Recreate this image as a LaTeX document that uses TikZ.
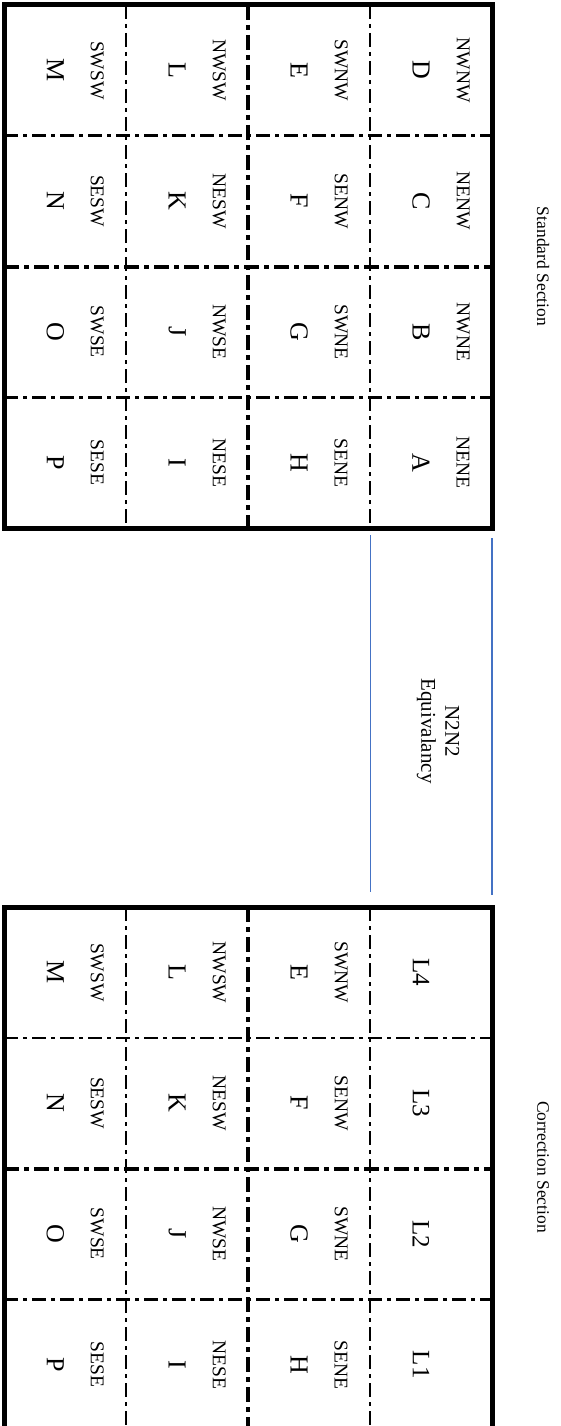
\documentclass[tikz,border=0pt]{standalone}
\usepackage{fontspec}
\setmainfont{Liberation Serif}
\definecolor{blueline}{HTML}{4472C4}
\begin{document}
\begin{tikzpicture}[x=1pt,y=-1pt,
  frame/.style={line width=5pt},
  thindd/.style={line width=2.5pt, dash pattern=on 14pt off 5pt on 4pt off 5pt},
  thickdd/.style={line width=4pt, dash pattern=on 15pt off 5pt on 5pt off 5pt},
  lbl/.style={rotate=-90, inner sep=0pt, font=\fontsize{19.5}{22}\selectfont},
  bigch/.style={rotate=-90, inner sep=0pt, font=\fontsize{26}{30}\selectfont},
  lev/.style={rotate=-90, inner sep=0pt, font=\fontsize{25}{29}\selectfont},
  sect/.style={rotate=-90, inner sep=0pt, font=\fontsize{17.5}{21}\selectfont},
  equiv/.style={rotate=-90, inner sep=0pt, align=center, font=\fontsize{21}{24}\selectfont},
  bluel/.style={draw=blueline, line width=1.5pt}]
\useasboundingbox (0,0) rectangle (561,1426);
\clip (0,0) rectangle (561,1426);
% grids
\foreach \gy in {5,907}{
  \draw[thindd] (126.2,\gy) -- (126.2,{\gy+523});
  \draw[thickdd] (248.1,\gy) -- (248.1,{\gy+523});
  \draw[thindd] (370,\gy) -- (370,{\gy+523});
  \draw[thindd] (4.3,{\gy+130.75}) -- (492,{\gy+130.75});
  \draw[thickdd] (4.3,{\gy+261.5}) -- (492,{\gy+261.5});
  \draw[thindd] (4.3,{\gy+392.25}) -- (492,{\gy+392.25});
  \draw[frame] (4.3,\gy) rectangle (492,{\gy+523});
}
% standard section cells
\foreach \b/\r/\lab/\ch in {0/0/NWNW/D, 0/1/NENW/C, 0/2/NWNE/B, 0/3/NENE/A,
  1/0/SWNW/E, 1/1/SENW/F, 1/2/SWNE/G, 1/3/SENE/H,
  2/0/NWSW/L, 2/1/NESW/K, 2/2/NWSE/J, 2/3/NESE/I,
  3/0/SWSW/M, 3/1/SESW/N, 3/2/SWSE/O, 3/3/SESE/P}{
  \node[lbl] (s\lab) at ({492-121.9*\b-29},{5+130.75*(\r+0.5)}) {\lab};
  \node[bigch] (s\ch) at ({492-121.9*\b-71},{5+130.75*(\r+0.5)}) {\ch};
}
% correction section cells
\foreach \b/\r/\lab/\ch in {
  1/0/SWNW/E, 1/1/SENW/F, 1/2/SWNE/G, 1/3/SENE/H,
  2/0/NWSW/L, 2/1/NESW/K, 2/2/NWSE/J, 2/3/NESE/I,
  3/0/SWSW/M, 3/1/SESW/N, 3/2/SWSE/O, 3/3/SESE/P}{
  \node[lbl] (c\lab) at ({492-121.9*\b-29},{907+130.75*(\r+0.5)}) {\lab};
  \node[bigch] (c\ch) at ({492-121.9*\b-71},{907+130.75*(\r+0.5)}) {\ch};
}
\foreach \r/\t in {0/L4,1/L3,2/L2,3/L1}{
  \node[lev] (c\t) at (421,{907+130.75*(\r+0.5)}) {\t};
}
% section titles
\node[sect] (stdsec) at (543,266.5) {Standard Section};
\node[sect] (corsec) at (543,1167) {Correction Section};
% equivalency band
\coordinate (b1s) at (370.3,535);
\coordinate (b1e) at (370.3,892);
\coordinate (b2s) at (492,538);
\coordinate (b2e) at (492,895);
\draw[bluel] (b1s) -- (b1e);
\draw[bluel] (b2s) -- (b2e);
\node[equiv] (eqv) at (438,731) {N2N2\\Equivalancy};
\end{tikzpicture}
\end{document}
